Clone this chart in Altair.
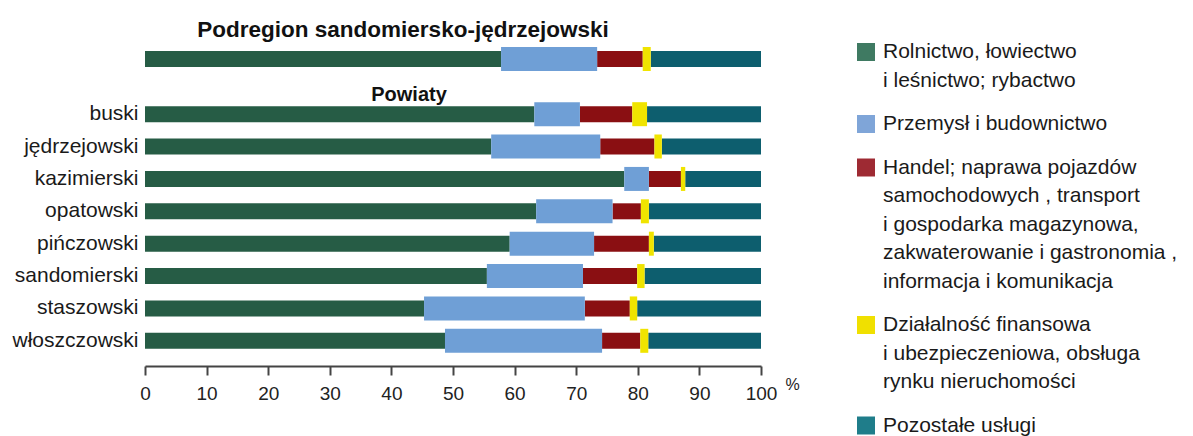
import altair as alt
import pandas as pd

rows = ["Podregion sandomiersko-jędrzejowski", "buski", "jędrzejowski", "kazimierski",
        "opatowski", "pińczowski", "sandomierski", "staszowski", "włoszczowski"]

sectors = [
    "Rolnictwo, łowiectwo|i leśnictwo; rybactwo",
    "Przemysł i budownictwo",
    "Handel; naprawa pojazdów|samochodowych  , transport|i gospodarka magazynowa,|zakwaterowanie i gastronomia ,|informacja i komunikacja",
    "Działalność finansowa|i ubezpieczeniowa, obsługa|rynku nieruchomości",
    "Pozostałe usługi",
]
colors = ["#265c45", "#6f9fd6", "#8a0f12", "#f0e400", "#0d5e6e"]
legend_colors = ["#3f7a62", "#7fa5d8", "#9e2a33", "#f0e000", "#1f7d8a"]

rolnictwo = [57.8, 63.2, 56.2, 77.8, 63.5, 59.2, 55.5, 45.3, 48.7]
przemysl = [15.6, 7.4, 17.7, 4.0, 12.4, 13.7, 15.6, 26.1, 25.5]
handel = [7.4, 8.5, 8.8, 5.2, 4.6, 8.9, 8.8, 7.3, 6.2]
finanse = [1.3, 2.4, 1.2, 0.7, 1.3, 0.8, 1.2, 1.2, 1.3]
pozostale = [17.9, 18.5, 16.1, 12.3, 18.2, 17.4, 18.9, 20.1, 18.3]

ticks = [0, 10, 20, 30, 40, 50, 60, 70, 80, 90, 100]

series = [rolnictwo, przemysl, handel, finanse, pozostale]
records = []
for i, r in enumerate(rows):
    for j, s in enumerate(sectors):
        records.append({"row": r, "sector": s, "value": series[j][i], "ord": j})
df = pd.DataFrame(records)

FONT = "Liberation Sans"
THIN, THICK = 16, 24
thick_sectors = [sectors[1], sectors[3]]

color = alt.Color("sector:N", scale=alt.Scale(domain=sectors, range=colors), legend=None)
xscale = alt.Scale(domain=[0, 100], nice=False)


def bars(data_filter, xaxis, yenc):
    base = alt.Chart(df).transform_filter(data_filter).transform_stack(
        stack="value", groupby=["row"], as_=["x0", "x1"], sort=[alt.SortField("ord")]
    )
    thin = base.transform_filter(
        ~alt.FieldOneOfPredicate(field="sector", oneOf=thick_sectors)
    ).mark_bar(size=THIN).encode(
        x=alt.X("x0:Q", scale=xscale, axis=xaxis), x2="x1:Q", y=yenc, color=color)
    thick = base.transform_filter(
        alt.FieldOneOfPredicate(field="sector", oneOf=thick_sectors)
    ).mark_bar(size=THICK).encode(
        x=alt.X("x0:Q", scale=xscale, axis=xaxis), x2="x1:Q", y=yenc, color=color)
    return alt.layer(thin, thick)


top = bars(alt.datum.row == rows[0], None, alt.Y("row:N", axis=None)).properties(
    width=616, height=24,
    title=alt.TitleParams("Podregion sandomiersko-jędrzejowski", font=FONT, fontSize=22.5,
                          fontWeight="bold", color="#111111", anchor="middle", dx=-50, offset=6),
)

xaxis = alt.Axis(values=ticks, title="%", titleX=647, titleY=18, titleAlign="center",
                 titleBaseline="middle", titleFont=FONT, titleFontSize=16,
                 titleFontWeight="normal", titleColor="#222222",
                 labelFont=FONT, labelFontSize=19, labelColor="#222222",
                 domainColor="#444444", domainWidth=2, tickColor="#444444",
                 tickWidth=2, tickSize=9, labelPadding=9, grid=False, offset=9,
                 labelFlush=False)
yaxis = alt.Y("row:N", sort=rows[1:], title=None,
              axis=alt.Axis(ticks=False, domain=False, labelFont=FONT, labelFontSize=21,
                            labelColor="#1a1a1a", labelPadding=7))

bottom = bars(alt.datum.row != rows[0], xaxis, yaxis).properties(
    width=616, height=259,
    title=alt.TitleParams("Powiaty", font=FONT, fontSize=20, fontWeight="bold",
                          color="#111111", anchor="middle", dx=-44, offset=-7),
)

# legend built from the sector names
LEG_H = 380
LEG_TOP, LH, GAP = 5, 28.5, 15
leg_records = []
k = 0
for j, s in enumerate(sectors):
    for li, line in enumerate(s.split("|")):
        leg_records.append({"sector": s, "text": line, "pos": LEG_TOP + LH * k + GAP * j,
                            "first": li == 0})
        k += 1
leg_df = pd.DataFrame(leg_records)
yleg = alt.Scale(domain=[0, LEG_H], reverse=True, nice=False, zero=True)

leg_text = alt.Chart(leg_df).mark_text(
    align="left", baseline="middle", font=FONT, fontSize=21, color="#1a1a1a"
).encode(x=alt.value(32), y=alt.Y("pos:Q", scale=yleg, axis=None), text="text:N")
leg_sq = alt.Chart(leg_df).transform_filter(alt.datum.first).mark_square(
    size=324, opacity=1
).encode(
    x=alt.value(15), y=alt.Y("pos:Q", scale=yleg, axis=None),
    color=alt.Color("sector:N", scale=alt.Scale(domain=sectors, range=legend_colors), legend=None),
)
legend = alt.layer(leg_sq, leg_text).properties(width=300, height=LEG_H)

chart = alt.hconcat(
    alt.vconcat(top, bottom, spacing=14), legend, spacing=51
).resolve_scale(color="independent").properties(
    padding={"left": 3, "top": 10, "right": 0, "bottom": 0},
    background="white",
).configure(view=alt.ViewConfig(stroke=None))

chart.save("out.html", embed_options={"renderer": "svg", "actions": False})
